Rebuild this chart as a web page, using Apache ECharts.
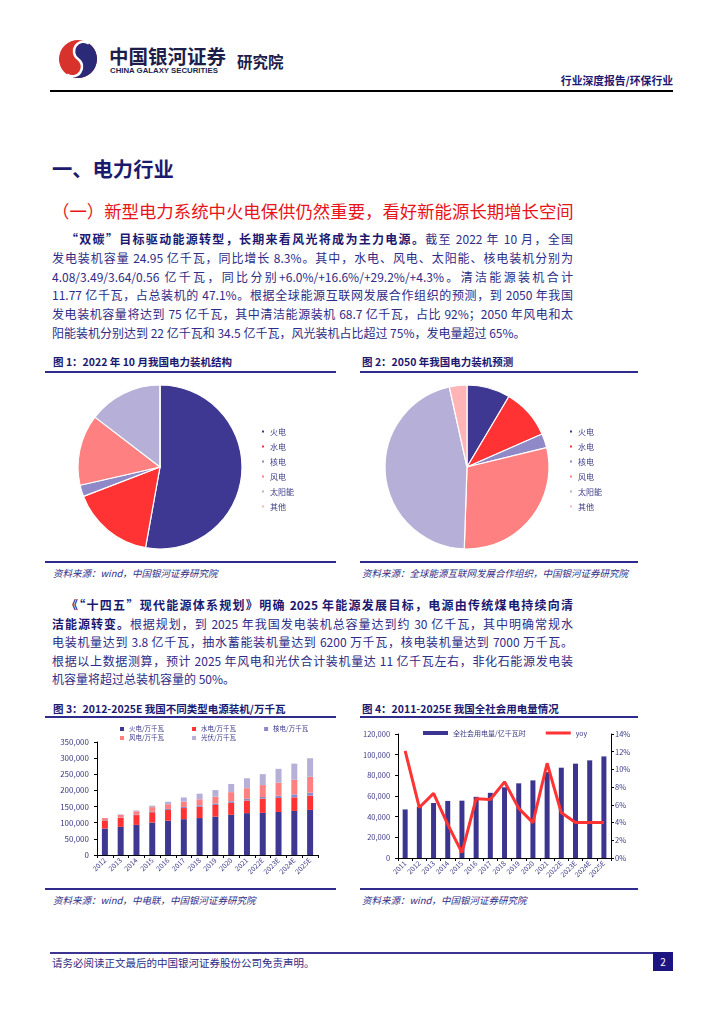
<!DOCTYPE html>
<html><head><meta charset="utf-8">
<script src="https://cdn.jsdelivr.net/npm/echarts@6/dist/echarts.min.js"></script>
<style>
html,body{margin:0;padding:0;background:#fff;}
body{width:724px;height:1024px;position:relative;overflow:hidden;font-family:"Noto Sans CJK SC","Noto Sans",sans-serif;}
.abs{position:absolute;white-space:nowrap;}
.ln{position:absolute;left:52px;width:521px;font-size:12px;line-height:16px;color:#2e2c86;text-align:justify;text-align-last:justify;}
.ln b{color:#1c1870;font-weight:700;}
.last{text-align-last:left;}
.ttl{position:absolute;font-size:10.5px;line-height:14px;font-weight:700;color:#1c1870;white-space:nowrap;}
.src{position:absolute;font-size:9.5px;line-height:14px;font-style:italic;color:#2e2c86;white-space:nowrap;}
.rule{position:absolute;height:2px;background:#2f2b8c;}
.chart{position:absolute;}
</style></head>
<body>
<!-- header -->
<svg class="abs" style="left:57px;top:38px" width="42" height="42" viewBox="0 0 42 42">
 <g transform="rotate(35 21 21)">
  <circle cx="21" cy="21" r="19" fill="#d8322c"/>
  <path d="M21,2 A19,19 0 0,1 21,40 A9.5,9.5 0 0,0 21,21 A9.5,9.5 0 0,1 21,2 Z" fill="#2b2a78"/>
  <path d="M21,40 A9.5,9.5 0 0,0 21,21 A9.5,9.5 0 0,1 21,2" fill="none" stroke="#fff" stroke-width="2.5"/>
 </g>
</svg>
<div class="abs" style="left:109px;top:43px;font-size:19.5px;line-height:26px;font-weight:700;color:#1e1e4a;">中国银河证券</div>
<div class="abs" style="left:110px;top:66px;font-size:7.8px;line-height:10px;font-weight:700;color:#1e1e4a;font-family:'Liberation Sans',Arial,sans-serif;">CHINA GALAXY SECURITIES</div>
<div class="abs" style="left:237px;top:50px;font-size:15.5px;line-height:22px;font-weight:700;color:#1e1e4a;">研究院</div>
<div class="abs" style="right:51px;top:73px;font-size:10.8px;line-height:15px;font-weight:700;color:#1c1870;">行业深度报告/环保行业</div>
<div class="abs" style="left:50px;top:90px;width:623px;height:2px;background:#000;"></div>

<div class="abs" style="left:52px;top:154px;font-size:20.3px;line-height:28px;font-weight:700;color:#1b1a6d;">一、电力行业</div>
<div class="abs" style="left:52px;top:199px;font-size:17.4px;line-height:24px;color:#e8141a;">（一）新型电力系统中火电保供仍然重要，看好新能源长期增长空间</div>

<div class="ln" style="top:231px;left:66px;width:507px;"><b>“双碳”目标驱动能源转型，长期来看风光将成为主力电源。</b>截至 2022 年 10 月，全国</div>
<div class="ln" style="top:249.8px;">发电装机容量 24.95 亿千瓦，同比增长 8.3%。其中，水电、风电、太阳能、核电装机分别为</div>
<div class="ln" style="top:268.6px;">4.08/3.49/3.64/0.56 亿千瓦，同比分别+6.0%/+16.6%/+29.2%/+4.3%。清洁能源装机合计</div>
<div class="ln" style="top:287.4px;">11.77 亿千瓦，占总装机的 47.1%。根据全球能源互联网发展合作组织的预测，到 2050 年我国</div>
<div class="ln" style="top:306.2px;">发电装机容量将达到 75 亿千瓦，其中清洁能源装机 68.7 亿千瓦，占比 92%；2050 年风电和太</div>
<div class="ln last" style="top:325px;">阳能装机分别达到 22 亿千瓦和 34.5 亿千瓦，风光装机占比超过 75%，发电量超过 65%。</div>

<div class="ttl" style="left:53px;top:355px;">图 1：2022 年 10 月我国电力装机结构</div>
<div class="ttl" style="left:362px;top:355px;">图 2：2050 年我国电力装机预测</div>
<div class="rule" style="left:45px;top:370.5px;width:291px;"></div>
<div class="rule" style="left:360px;top:370.5px;width:278px;"></div>
<div id="c1" class="chart" style="left:46px;top:376px;width:290px;height:182px;"></div>
<div id="c2" class="chart" style="left:360px;top:376px;width:278px;height:182px;"></div>
<div class="rule" style="left:45px;top:561px;width:291px;"></div>
<div class="rule" style="left:360px;top:561px;width:278px;"></div>
<div class="src" style="left:53px;top:566px;">资料来源：wind，中国银河证券研究院</div>
<div class="src" style="left:362px;top:566px;">资料来源：全球能源互联网发展合作组织，中国银河证券研究院</div>

<div class="ln" style="top:597px;left:66px;width:507px;"><b>《“十四五”现代能源体系规划》明确 2025 年能源发展目标，电源由传统煤电持续向清</b></div>
<div class="ln" style="top:615.5px;"><b>洁能源转变。</b>根据规划，到 2025 年我国发电装机总容量达到约 30 亿千瓦，其中明确常规水</div>
<div class="ln" style="top:634px;">电装机量达到 3.8 亿千瓦，抽水蓄能装机量达到 6200 万千瓦，核电装机量达到 7000 万千瓦。</div>
<div class="ln" style="top:652.5px;">根据以上数据测算，预计 2025 年风电和光伏合计装机量达 11 亿千瓦左右，非化石能源发电装</div>
<div class="ln last" style="top:671px;">机容量将超过总装机容量的 50%。</div>

<div class="ttl" style="left:53px;top:702px;">图 3：2012-2025E 我国不同类型电源装机/万千瓦</div>
<div class="ttl" style="left:362px;top:702px;">图 4：2011-2025E 我国全社会用电量情况</div>
<div class="rule" style="left:45px;top:716px;width:291px;"></div>
<div class="rule" style="left:360px;top:716px;width:278px;"></div>
<div id="c3" class="chart" style="left:46px;top:722px;width:290px;height:166px;"></div>
<div id="c4" class="chart" style="left:360px;top:722px;width:278px;height:166px;"></div>
<div class="rule" style="left:45px;top:888px;width:291px;"></div>
<div class="rule" style="left:360px;top:888px;width:278px;"></div>
<div class="src" style="left:53px;top:893px;">资料来源：wind，中电联，中国银河证券研究院</div>
<div class="src" style="left:362px;top:893px;">资料来源：wind，中国银河证券研究院</div>

<!-- footer -->
<div class="abs" style="left:50px;top:952px;width:605px;height:2px;background:#3b3591;"></div>
<div class="abs" style="left:52px;top:955px;font-size:10.5px;line-height:15px;color:#2e2c86;">请务必阅读正文最后的中国银河证券股份公司免责声明。</div>
<div class="abs" style="left:653px;top:952px;width:20px;height:19px;background:#1c1480;color:#fff;font-size:10px;line-height:19px;text-align:center;">2</div>

<script>
// ---------- data ----------
const pieNames = ['火电', '水电', '核电', '风电', '太阳能', '其他'];
const pie2022 = [13.18, 4.08, 0.56, 3.49, 3.64, 0];          // 亿千瓦, 2022-10
const pie2050 = [6.4, 7.4, 2.1, 22, 34.5, 2.6];              // 亿千瓦, 2050 forecast

const years3 = ['2012', '2013', '2014', '2015', '2016', '2017', '2018', '2019', '2020', '2021', '2022E', '2023E', '2024E', '2025E'];
const thermal = [81968, 87009, 93232, 100554, 106094, 111009, 114408, 119055, 124517, 129678, 130500, 133400, 136500, 139600];
const hydro   = [24947, 28044, 30486, 31954, 33207, 34377, 35259, 35804, 37016, 39092, 44000, 43100, 42100, 44100];
const nuclear = [1257, 1466, 2008, 2717, 3364, 3582, 4466, 4874, 4989, 5326, 5100, 7200, 9200, 9300];
const wind    = [6142, 7652, 9657, 13075, 14747, 16400, 18427, 20915, 28153, 32848, 37000, 40100, 45200, 49000];
const solar   = [341, 1589, 2486, 4318, 7631, 12942, 17433, 20418, 25343, 30656, 33800, 43100, 50000, 57700];

const years4 = ['2011', '2012', '2013', '2014', '2015', '2016', '2017', '2018', '2019', '2020', '2021', '2022E', '2023E', '2024E', '2025E'];
const consumption = [47001, 49591, 53223, 55233, 55500, 59198, 63077, 68449, 72255, 75110, 83128, 87400, 91300, 94500, 98300];
const yoy = [12.1, 5.7, 7.3, 3.8, 0.6, 6.7, 6.6, 8.6, 5.6, 4.0, 10.7, 5.1, 4.0, 4.0, 4.0];

// ---------- styles ----------
const FONT = '"Noto Sans CJK SC","Noto Sans",sans-serif';
const TXT = '#3b3a86';
const pieColors = ['#3f3893', '#ff3333', '#8f89c8', '#ff8080', '#b6b0d8', '#ffb5b5'];
const fmt = v => Number(v).toLocaleString('en-US');

function pieOption(vals, cx, legendLeft) {
  return {
    animation: false,
    textStyle: { fontFamily: FONT },
    color: pieColors,
    legend: {
      orient: 'vertical', left: legendLeft, top: 51, padding: 0,
      itemWidth: 4, itemHeight: 4, itemGap: 6, icon: 'rect',
      textStyle: { fontSize: 8, color: TXT, lineHeight: 9 },
      data: pieNames
    },
    series: [{
      type: 'pie', center: [cx, 91], radius: [0, 82], startAngle: 90, clockwise: true,
      label: { show: false }, labelLine: { show: false },
      itemStyle: { borderColor: '#fff', borderWidth: 1.2 },
      emphasis: { disabled: true },
      data: pieNames.map((n, i) => ({ name: n, value: vals[i] }))
    }]
  };
}

echarts.init(document.getElementById('c1'), null, { renderer: 'canvas' }).setOption(pieOption(pie2022, 114, 214));
echarts.init(document.getElementById('c2'), null, { renderer: 'canvas' }).setOption(pieOption(pie2050, 107, 208));

// chart 3
const axisBase = {
  axisLine: { show: true, lineStyle: { color: '#000', width: 1 } },
  axisTick: { show: true, length: 3, lineStyle: { color: '#000' } },
  splitLine: { show: false }
};
const s3 = [
  ['火电/万千瓦', thermal, '#3f3893'],
  ['水电/万千瓦', hydro, '#ff3333'],
  ['核电/万千瓦', nuclear, '#8f89c8'],
  ['风电/万千瓦', wind, '#ff8080'],
  ['光伏/万千瓦', solar, '#b6b0d8']
];
const legTxt = { fontSize: 6.5, color: TXT, lineHeight: 7 };
echarts.init(document.getElementById('c3')).setOption({
  animation: false,
  textStyle: { fontFamily: FONT },
  grid: { left: 51, right: 18, top: 20, bottom: 33 },
  legend: [
    { left: 74, top: 3.5, padding: 0, itemWidth: 4, itemHeight: 4, itemGap: 28, icon: 'rect', textStyle: legTxt, data: s3.slice(0, 3).map(s => s[0]) },
    { left: 74, top: 12.5, padding: 0, itemWidth: 4, itemHeight: 4, itemGap: 28, icon: 'rect', textStyle: legTxt, data: s3.slice(3).map(s => s[0]) }
  ],
  xAxis: Object.assign({}, axisBase, {
    type: 'category', data: years3,
    axisTick: { show: true, length: 3, alignWithLabel: false, lineStyle: { color: '#000' } },
    axisLabel: { rotate: 45, fontSize: 7, color: TXT, margin: 4, interval: 0 }
  }),
  yAxis: Object.assign({}, axisBase, {
    type: 'value', min: 0, max: 350000, interval: 50000,
    axisLabel: { fontSize: 8, color: TXT, margin: 8, formatter: fmt }
  }),
  series: s3.map(s => ({
    name: s[0], type: 'bar', stack: 'cap', barWidth: 6, data: s[1],
    itemStyle: { color: s[2] }, emphasis: { disabled: true }
  }))
});

// chart 4
echarts.init(document.getElementById('c4')).setOption({
  animation: false,
  textStyle: { fontFamily: FONT },
  grid: { left: 36, right: 27, top: 12, bottom: 30 },
  legend: {
    left: 63, top: 7, padding: 0, itemWidth: 25, itemHeight: 4, itemGap: 20,
    textStyle: { fontSize: 7, color: TXT, lineHeight: 8 },
    data: [
      { name: '全社会用电量/亿千瓦时', icon: 'rect' },
      { name: 'yoy', icon: 'path://M0,0H25V3H0Z', itemStyle: { color: '#ff3333' } }
    ]
  },
  xAxis: Object.assign({}, axisBase, {
    type: 'category', data: years4,
    axisTick: { show: true, length: 3, alignWithLabel: false, lineStyle: { color: '#000' } },
    axisLabel: { rotate: 45, fontSize: 7, color: TXT, margin: 4, interval: 0 }
  }),
  yAxis: [
    Object.assign({}, axisBase, {
      type: 'value', min: 0, max: 120000, interval: 20000,
      axisLabel: { fontSize: 7.5, color: TXT, margin: 8, formatter: fmt }
    }),
    Object.assign({}, axisBase, {
      type: 'value', min: 0, max: 14, interval: 2, position: 'right',
      axisLabel: { fontSize: 7.5, color: TXT, margin: 4, formatter: '{value}%' }
    })
  ],
  series: [
    { name: '全社会用电量/亿千瓦时', type: 'bar', barWidth: 5, data: consumption,
      itemStyle: { color: '#3c3590' }, emphasis: { disabled: true } },
    { name: 'yoy', type: 'line', yAxisIndex: 1, data: yoy, symbol: 'none', z: 5,
      lineStyle: { color: '#ff3333', width: 3 }, itemStyle: { color: '#ff3333' }, emphasis: { disabled: true } }
  ]
});
</script>
</body></html>
